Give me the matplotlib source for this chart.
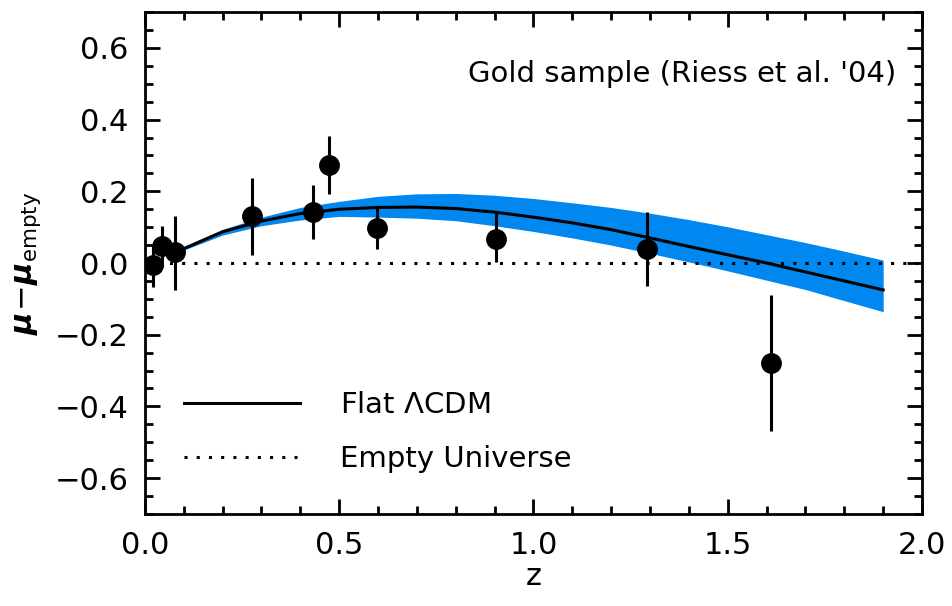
import matplotlib
matplotlib.use("Agg")
import matplotlib.pyplot as plt
from matplotlib.ticker import MultipleLocator

plt.rcParams["font.family"] = "DejaVu Sans"
plt.rcParams["mathtext.fontset"] = "custom"
plt.rcParams["mathtext.rm"] = "DejaVu Sans"
plt.rcParams["mathtext.it"] = "DejaVu Sans:italic:bold"

# binned gold sample points (Riess et al. 2004)
z_data = [0.020, 0.044, 0.077, 0.275, 0.432, 0.474, 0.597, 0.903, 1.292, 1.611]
dmu_data = [-0.006, 0.047, 0.030, 0.130, 0.143, 0.273, 0.098, 0.067, 0.040, -0.279]
err_lo = [0.061, 0.057, 0.105, 0.108, 0.076, 0.081, 0.058, 0.064, 0.104, 0.190]
err_hi = [0.056, 0.056, 0.100, 0.108, 0.075, 0.081, 0.062, 0.073, 0.102, 0.189]

# flat LCDM curve and its uncertainty band
z_model = [0.07, 0.1, 0.2, 0.3, 0.4, 0.5, 0.6, 0.7, 0.8, 0.9,
           1.0, 1.1, 1.2, 1.3, 1.4, 1.5, 1.6, 1.7, 1.8, 1.9]
dmu_model = [0.030, 0.040, 0.087, 0.117, 0.138, 0.150, 0.155, 0.156, 0.152, 0.142,
             0.128, 0.112, 0.093, 0.070, 0.046, 0.023, 0.000, -0.025, -0.050, -0.075]
band_hi = [0.033, 0.045, 0.094, 0.128, 0.155, 0.172, 0.186, 0.193, 0.194, 0.189,
           0.180, 0.168, 0.155, 0.139, 0.121, 0.101, 0.079, 0.057, 0.033, 0.008]
band_lo = [0.027, 0.036, 0.078, 0.104, 0.120, 0.130, 0.128, 0.125, 0.118, 0.104,
           0.088, 0.070, 0.050, 0.027, 0.003, -0.022, -0.048, -0.074, -0.105, -0.136]

fig = plt.figure(figsize=(9.53, 6.06), dpi=100)
ax = fig.add_axes([0.152, 0.152, 0.8155, 0.828])

ax.fill_between(z_model, band_lo, band_hi, color="#0087f0", lw=0, zorder=1)
ax.plot(z_model, dmu_model, color="black", lw=2.2, zorder=2, label=r"Flat $\Lambda$CDM")
ax.axhline(0.0, color="black", lw=2.2, ls=(0, (1, 3)), zorder=2, label="Empty Universe")
ax.errorbar(z_data, dmu_data, yerr=[err_lo, err_hi], fmt="o", color="black",
            ms=14, elinewidth=2.2, capsize=0, zorder=3)

ax.set_xlim(0, 2.0)
ax.set_ylim(-0.7, 0.7)
ax.xaxis.set_major_locator(MultipleLocator(0.5))
ax.xaxis.set_minor_locator(MultipleLocator(0.1))
ax.yaxis.set_major_locator(MultipleLocator(0.2))
ax.yaxis.set_minor_locator(MultipleLocator(0.05))
ax.xaxis.set_major_formatter(plt.FuncFormatter(lambda v, p: f"{v:.1f}"))
ax.yaxis.set_major_formatter(plt.FuncFormatter(lambda v, p: f"{v:.1f}".replace("-", "\u2212")))
ax.tick_params(which="both", direction="in", top=True, right=True, width=2, labelsize=22)
ax.tick_params(which="major", length=11, pad=12)
ax.tick_params(which="minor", length=5.5)
for s in ax.spines.values():
    s.set_linewidth(2)

ax.set_xlabel("z", fontsize=22, labelpad=2)
ax.set_ylabel(r"$\mu\!-\!\mu_{\rm empty}$", fontsize=22, labelpad=8)

ax.text(0.9665, 0.877, "Gold sample (Riess et al. '04)", transform=ax.transAxes,
        ha="right", va="center", fontsize=21)

ax.legend(loc="upper left", bbox_to_anchor=(0.05, 0.245), frameon=False, fontsize=21,
          handlelength=4.0, handletextpad=1.35, borderpad=0, borderaxespad=0,
          labelspacing=0.9)

fig.savefig("out.png", dpi=100)
